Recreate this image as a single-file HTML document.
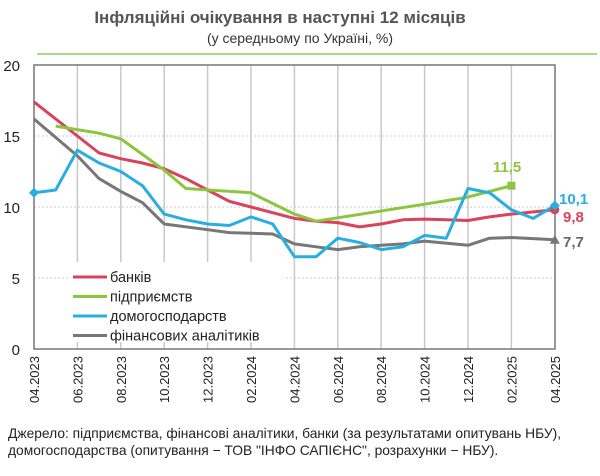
<!DOCTYPE html>
<html><head><meta charset="utf-8"><style>
body{margin:0;background:#fff;font-family:"Liberation Sans",sans-serif}
</style></head><body>
<svg width="600" height="471" xmlns="http://www.w3.org/2000/svg" font-family="Liberation Sans, sans-serif">
<text x="280" y="23" text-anchor="middle" font-size="17" font-weight="bold" fill="#555">Інфляційні очікування в наступні 12 місяців</text>
<text x="300" y="43" text-anchor="middle" font-size="14" fill="#333">(у середньому по Україні, %)</text>
<line x1="37" y1="54" x2="597" y2="54" stroke="#8fcf60" stroke-width="1.5"/>
<g stroke="#ccc" stroke-dasharray="2,2">
<line x1="34" x2="555" y1="278" y2="278"/><line x1="34" x2="555" y1="207" y2="207"/><line x1="34" x2="555" y1="136" y2="136"/>
</g>
<g stroke="#c8c8c8" stroke-width="1.5">
<line x1="77.4" x2="77.4" y1="65" y2="349"/><line x1="120.8" x2="120.8" y1="65" y2="349"/><line x1="164.2" x2="164.2" y1="65" y2="349"/><line x1="207.6" x2="207.6" y1="65" y2="349"/><line x1="251" x2="251" y1="65" y2="349"/><line x1="294.4" x2="294.4" y1="65" y2="349"/><line x1="337.8" x2="337.8" y1="65" y2="349"/><line x1="381.2" x2="381.2" y1="65" y2="349"/><line x1="424.6" x2="424.6" y1="65" y2="349"/><line x1="468" x2="468" y1="65" y2="349"/><line x1="511.4" x2="511.4" y1="65" y2="349"/>
</g>
<rect x="34" y="65" width="521" height="284" fill="none" stroke="#777" stroke-width="1.5"/>
<g font-size="15" fill="#222" text-anchor="end">
<text x="20" y="355">0</text><text x="20" y="284">5</text><text x="20" y="213">10</text><text x="20" y="142">15</text><text x="20" y="71">20</text>
</g>
<g font-size="13" fill="#222" text-anchor="end">
<text transform="translate(39,356) rotate(-90)">04.2023</text>
<text transform="translate(82.4,356) rotate(-90)">06.2023</text>
<text transform="translate(125.8,356) rotate(-90)">08.2023</text>
<text transform="translate(169.2,356) rotate(-90)">10.2023</text>
<text transform="translate(212.6,356) rotate(-90)">12.2023</text>
<text transform="translate(256,356) rotate(-90)">02.2024</text>
<text transform="translate(299.4,356) rotate(-90)">04.2024</text>
<text transform="translate(342.8,356) rotate(-90)">06.2024</text>
<text transform="translate(386.2,356) rotate(-90)">08.2024</text>
<text transform="translate(429.6,356) rotate(-90)">10.2024</text>
<text transform="translate(473,356) rotate(-90)">12.2024</text>
<text transform="translate(516.4,356) rotate(-90)">02.2025</text>
<text transform="translate(559.8,356) rotate(-90)">04.2025</text>
</g>
<g fill="none" stroke-width="3" stroke-linejoin="round">
<polyline stroke="#777" points="34,119 77.4,155.9 99.1,178.6 120.8,191.4 142.5,202.7 164.2,224 207.6,229.7 229.3,232.6 272.7,234 294.4,243.9 316.1,246.8 337.8,249.6 359.5,246.8 381.2,245.3 402.9,243.9 424.6,241.1 468,245.3 489.7,238.2 511.4,237.5 554.8,239.7"/>
<polyline stroke="#d9435b" points="34,101.9 77.4,136 99.1,153 120.8,158.7 142.5,163 164.2,168.7 185.9,178.6 207.6,190 229.3,201.3 251,207 272.7,212.7 294.4,218.4 316.1,221.2 337.8,222.6 359.5,226.9 381.2,224 402.9,219.8 424.6,219.1 446.3,219.8 468,220.5 489.7,216.9 511.4,214.1 554.8,209.8"/>
<polyline stroke="#8cc63f" points="55.7,126.1 99.1,133.2 120.8,138.8 164.2,170.1 185.9,188.5 251,192.8 294.4,214.1 316.1,221.2 424.6,204.2 468,197.1 511.4,185.7"/>
<polyline stroke="#29aee0" points="34,192.8 55.7,190 77.4,150.2 99.1,163 120.8,171.5 142.5,185.7 164.2,214.1 185.9,219.8 207.6,224 229.3,225.5 251,216.9 272.7,224 294.4,256.7 316.1,256.7 337.8,238.2 359.5,242.5 381.2,249.6 402.9,246.8 424.6,235.4 446.3,238.2 468,188.5 489.7,192.8 511.4,209.8 533.1,218.4 554.8,205.6"/>
</g>
<rect x="507.4" y="181.7" width="8" height="8" fill="#8cc63f"/>
<circle cx="554.8" cy="209.8" r="4.5" fill="#d9435b"/>
<polygon points="554.8,234.7 549.8,243.7 559.8,243.7" fill="#777"/>
<polygon points="554.8,200.6 559.8,205.6 554.8,210.6 549.8,205.6" fill="#29aee0"/>
<polygon points="34,187.8 39,192.8 34,197.8 29,192.8" fill="#29aee0"/>
<text x="507" y="172" text-anchor="middle" font-size="15" font-weight="bold" fill="#8cc63f">11,5</text>
<text x="559" y="204" font-size="15" font-weight="bold" fill="#29aee0">10,1</text>
<text x="563" y="222" font-size="15" font-weight="bold" fill="#d9435b">9,8</text>
<text x="563" y="247" font-size="15" font-weight="bold" fill="#666">7,7</text>
<rect x="68" y="262" width="215" height="80" fill="#fff"/>
<g stroke-width="3">
<line x1="73" x2="107" y1="277" y2="277" stroke="#d9435b"/>
<line x1="73" x2="107" y1="296.5" y2="296.5" stroke="#8cc63f"/>
<line x1="73" x2="107" y1="316" y2="316" stroke="#29aee0"/>
<line x1="73" x2="107" y1="335.5" y2="335.5" stroke="#777"/>
</g>
<g font-size="14.5" fill="#222">
<text x="110" y="282">банків</text>
<text x="110" y="301.5">підприємств</text>
<text x="110" y="321">домогосподарств</text>
<text x="110" y="340.5">фінансових аналітиків</text>
</g>
<text x="8" y="438" font-size="13.8" fill="#222">Джерело: підприємства, фінансові аналітики, банки (за результатами опитувань НБУ),</text>
<text x="8" y="455" font-size="13.8" fill="#222">домогосподарства (опитування − ТОВ "ІНФО САПІЄНС", розрахунки − НБУ).</text>
</svg>
</body></html>
